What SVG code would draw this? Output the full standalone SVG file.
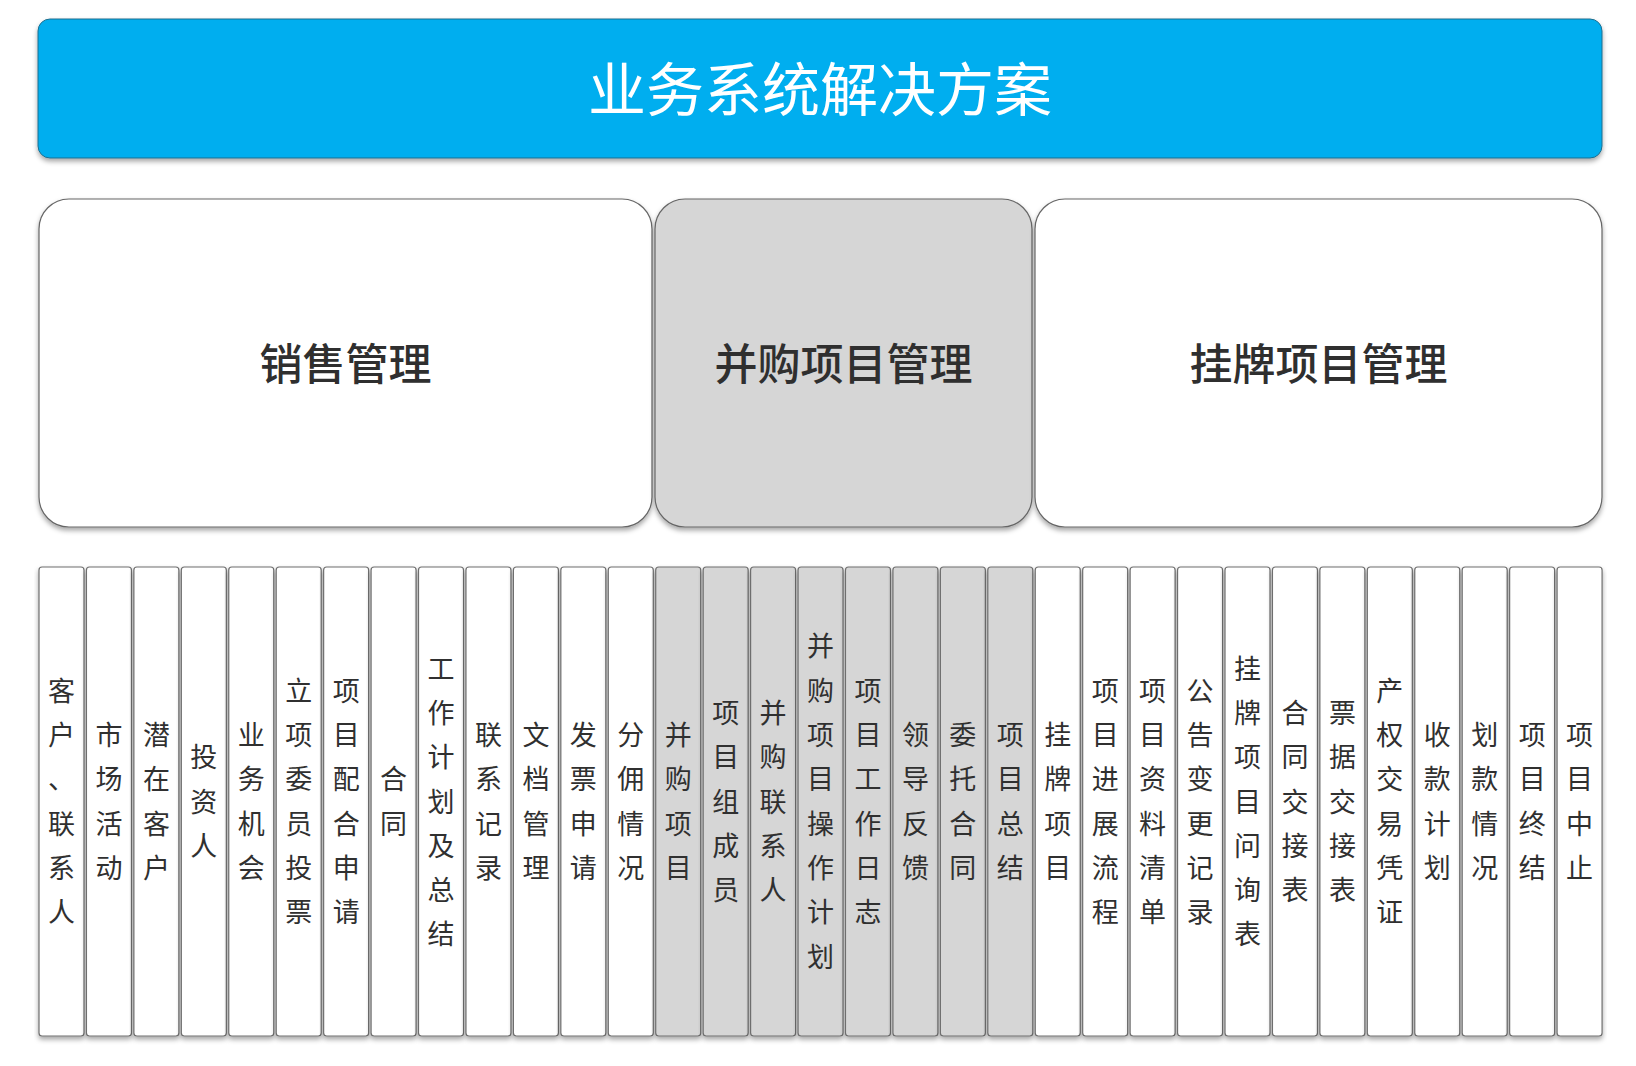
<svg xmlns="http://www.w3.org/2000/svg" width="1636" height="1066" viewBox="0 0 1636 1066">
<defs>
<filter id="sh" x="-10%" y="-10%" width="120%" height="130%">
<feDropShadow dx="0" dy="3" stdDeviation="2.5" flood-color="#000" flood-opacity="0.35"/>
</filter>
<style>
text{font-family:"Noto Sans CJK SC","Noto Sans",sans-serif;dominant-baseline:central;text-anchor:middle;}
.title{fill:#00AEEF;stroke:#1f6f8f;stroke-width:1;filter:url(#sh);}
.tt{fill:#fff;font-size:58px;}
.box{stroke:#666;stroke-width:1.2;filter:url(#sh);}
.bt{fill:#2f2f2f;font-size:43px;font-weight:500;}
.col{stroke:#6e6e6e;stroke-width:1.2;filter:url(#sh);}
.w{fill:#fff;}
.g{fill:#d6d6d6;}
.ct{fill:#303030;font-size:27px;transform:translateY(-2px);}
</style>
</defs>
<rect width="1636" height="1066" fill="#fff"/>
<g id="title">
<rect class="title" x="38" y="19" width="1564" height="139" rx="12"/>
<text class="tt" x="820" y="86">业务系统解决方案</text>
</g>
<g id="sales">
<rect class="box w" x="39" y="199" width="613" height="328" rx="30"/>
<text class="bt" x="345.5" y="361">销售管理</text>
</g>
<g id="ma">
<rect class="box g" x="655" y="199" width="377" height="328" rx="30"/>
<text class="bt" x="843.5" y="361">并购项目管理</text>
</g>
<g id="listing">
<rect class="box w" x="1035" y="199" width="567" height="328" rx="30"/>
<text class="bt" x="1318.5" y="361">挂牌项目管理</text>
</g>
<g id="connectors"></g>
<g id="c0"><rect class="col w" x="39" y="567" width="45" height="469" rx="3"/><text class="ct" x="61.5" y="690.75"><tspan>客</tspan><tspan x="61.5" dy="44.3">户</tspan><tspan x="61.5" dy="44.3">、</tspan><tspan x="61.5" dy="44.3">联</tspan><tspan x="61.5" dy="44.3">系</tspan><tspan x="61.5" dy="44.3">人</tspan></text></g>
<g id="c1"><rect class="col w" x="86.44" y="567" width="45" height="469" rx="3"/><text class="ct" x="108.94" y="735.05"><tspan>市</tspan><tspan x="108.94" dy="44.3">场</tspan><tspan x="108.94" dy="44.3">活</tspan><tspan x="108.94" dy="44.3">动</tspan></text></g>
<g id="c2"><rect class="col w" x="133.88" y="567" width="45" height="469" rx="3"/><text class="ct" x="156.38" y="735.05"><tspan>潜</tspan><tspan x="156.38" dy="44.3">在</tspan><tspan x="156.38" dy="44.3">客</tspan><tspan x="156.38" dy="44.3">户</tspan></text></g>
<g id="c3"><rect class="col w" x="181.32" y="567" width="45" height="469" rx="3"/><text class="ct" x="203.82" y="757.2"><tspan>投</tspan><tspan x="203.82" dy="44.3">资</tspan><tspan x="203.82" dy="44.3">人</tspan></text></g>
<g id="c4"><rect class="col w" x="228.76" y="567" width="45" height="469" rx="3"/><text class="ct" x="251.26" y="735.05"><tspan>业</tspan><tspan x="251.26" dy="44.3">务</tspan><tspan x="251.26" dy="44.3">机</tspan><tspan x="251.26" dy="44.3">会</tspan></text></g>
<g id="c5"><rect class="col w" x="276.2" y="567" width="45" height="469" rx="3"/><text class="ct" x="298.7" y="690.75"><tspan>立</tspan><tspan x="298.7" dy="44.3">项</tspan><tspan x="298.7" dy="44.3">委</tspan><tspan x="298.7" dy="44.3">员</tspan><tspan x="298.7" dy="44.3">投</tspan><tspan x="298.7" dy="44.3">票</tspan></text></g>
<g id="c6"><rect class="col w" x="323.64" y="567" width="45" height="469" rx="3"/><text class="ct" x="346.14" y="690.75"><tspan>项</tspan><tspan x="346.14" dy="44.3">目</tspan><tspan x="346.14" dy="44.3">配</tspan><tspan x="346.14" dy="44.3">合</tspan><tspan x="346.14" dy="44.3">申</tspan><tspan x="346.14" dy="44.3">请</tspan></text></g>
<g id="c7"><rect class="col w" x="371.08" y="567" width="45" height="469" rx="3"/><text class="ct" x="393.58" y="779.35"><tspan>合</tspan><tspan x="393.58" dy="44.3">同</tspan></text></g>
<g id="c8"><rect class="col w" x="418.52" y="567" width="45" height="469" rx="3"/><text class="ct" x="441.02" y="668.6"><tspan>工</tspan><tspan x="441.02" dy="44.3">作</tspan><tspan x="441.02" dy="44.3">计</tspan><tspan x="441.02" dy="44.3">划</tspan><tspan x="441.02" dy="44.3">及</tspan><tspan x="441.02" dy="44.3">总</tspan><tspan x="441.02" dy="44.3">结</tspan></text></g>
<g id="c9"><rect class="col w" x="465.96" y="567" width="45" height="469" rx="3"/><text class="ct" x="488.46" y="735.05"><tspan>联</tspan><tspan x="488.46" dy="44.3">系</tspan><tspan x="488.46" dy="44.3">记</tspan><tspan x="488.46" dy="44.3">录</tspan></text></g>
<g id="c10"><rect class="col w" x="513.4" y="567" width="45" height="469" rx="3"/><text class="ct" x="535.9" y="735.05"><tspan>文</tspan><tspan x="535.9" dy="44.3">档</tspan><tspan x="535.9" dy="44.3">管</tspan><tspan x="535.9" dy="44.3">理</tspan></text></g>
<g id="c11"><rect class="col w" x="560.84" y="567" width="45" height="469" rx="3"/><text class="ct" x="583.34" y="735.05"><tspan>发</tspan><tspan x="583.34" dy="44.3">票</tspan><tspan x="583.34" dy="44.3">申</tspan><tspan x="583.34" dy="44.3">请</tspan></text></g>
<g id="c12"><rect class="col w" x="608.28" y="567" width="45" height="469" rx="3"/><text class="ct" x="630.78" y="735.05"><tspan>分</tspan><tspan x="630.78" dy="44.3">佣</tspan><tspan x="630.78" dy="44.3">情</tspan><tspan x="630.78" dy="44.3">况</tspan></text></g>
<g id="c13"><rect class="col g" x="655.72" y="567" width="45" height="469" rx="3"/><text class="ct" x="678.22" y="735.05"><tspan>并</tspan><tspan x="678.22" dy="44.3">购</tspan><tspan x="678.22" dy="44.3">项</tspan><tspan x="678.22" dy="44.3">目</tspan></text></g>
<g id="c14"><rect class="col g" x="703.16" y="567" width="45" height="469" rx="3"/><text class="ct" x="725.66" y="712.9"><tspan>项</tspan><tspan x="725.66" dy="44.3">目</tspan><tspan x="725.66" dy="44.3">组</tspan><tspan x="725.66" dy="44.3">成</tspan><tspan x="725.66" dy="44.3">员</tspan></text></g>
<g id="c15"><rect class="col g" x="750.6" y="567" width="45" height="469" rx="3"/><text class="ct" x="773.1" y="712.9"><tspan>并</tspan><tspan x="773.1" dy="44.3">购</tspan><tspan x="773.1" dy="44.3">联</tspan><tspan x="773.1" dy="44.3">系</tspan><tspan x="773.1" dy="44.3">人</tspan></text></g>
<g id="c16"><rect class="col g" x="798.04" y="567" width="45" height="469" rx="3"/><text class="ct" x="820.54" y="646.45"><tspan>并</tspan><tspan x="820.54" dy="44.3">购</tspan><tspan x="820.54" dy="44.3">项</tspan><tspan x="820.54" dy="44.3">目</tspan><tspan x="820.54" dy="44.3">操</tspan><tspan x="820.54" dy="44.3">作</tspan><tspan x="820.54" dy="44.3">计</tspan><tspan x="820.54" dy="44.3">划</tspan></text></g>
<g id="c17"><rect class="col g" x="845.48" y="567" width="45" height="469" rx="3"/><text class="ct" x="867.98" y="690.75"><tspan>项</tspan><tspan x="867.98" dy="44.3">目</tspan><tspan x="867.98" dy="44.3">工</tspan><tspan x="867.98" dy="44.3">作</tspan><tspan x="867.98" dy="44.3">日</tspan><tspan x="867.98" dy="44.3">志</tspan></text></g>
<g id="c18"><rect class="col g" x="892.92" y="567" width="45" height="469" rx="3"/><text class="ct" x="915.42" y="735.05"><tspan>领</tspan><tspan x="915.42" dy="44.3">导</tspan><tspan x="915.42" dy="44.3">反</tspan><tspan x="915.42" dy="44.3">馈</tspan></text></g>
<g id="c19"><rect class="col g" x="940.36" y="567" width="45" height="469" rx="3"/><text class="ct" x="962.86" y="735.05"><tspan>委</tspan><tspan x="962.86" dy="44.3">托</tspan><tspan x="962.86" dy="44.3">合</tspan><tspan x="962.86" dy="44.3">同</tspan></text></g>
<g id="c20"><rect class="col g" x="987.8" y="567" width="45" height="469" rx="3"/><text class="ct" x="1010.3" y="735.05"><tspan>项</tspan><tspan x="1010.3" dy="44.3">目</tspan><tspan x="1010.3" dy="44.3">总</tspan><tspan x="1010.3" dy="44.3">结</tspan></text></g>
<g id="c21"><rect class="col w" x="1035.24" y="567" width="45" height="469" rx="3"/><text class="ct" x="1057.74" y="735.05"><tspan>挂</tspan><tspan x="1057.74" dy="44.3">牌</tspan><tspan x="1057.74" dy="44.3">项</tspan><tspan x="1057.74" dy="44.3">目</tspan></text></g>
<g id="c22"><rect class="col w" x="1082.68" y="567" width="45" height="469" rx="3"/><text class="ct" x="1105.18" y="690.75"><tspan>项</tspan><tspan x="1105.18" dy="44.3">目</tspan><tspan x="1105.18" dy="44.3">进</tspan><tspan x="1105.18" dy="44.3">展</tspan><tspan x="1105.18" dy="44.3">流</tspan><tspan x="1105.18" dy="44.3">程</tspan></text></g>
<g id="c23"><rect class="col w" x="1130.12" y="567" width="45" height="469" rx="3"/><text class="ct" x="1152.62" y="690.75"><tspan>项</tspan><tspan x="1152.62" dy="44.3">目</tspan><tspan x="1152.62" dy="44.3">资</tspan><tspan x="1152.62" dy="44.3">料</tspan><tspan x="1152.62" dy="44.3">清</tspan><tspan x="1152.62" dy="44.3">单</tspan></text></g>
<g id="c24"><rect class="col w" x="1177.56" y="567" width="45" height="469" rx="3"/><text class="ct" x="1200.06" y="690.75"><tspan>公</tspan><tspan x="1200.06" dy="44.3">告</tspan><tspan x="1200.06" dy="44.3">变</tspan><tspan x="1200.06" dy="44.3">更</tspan><tspan x="1200.06" dy="44.3">记</tspan><tspan x="1200.06" dy="44.3">录</tspan></text></g>
<g id="c25"><rect class="col w" x="1225" y="567" width="45" height="469" rx="3"/><text class="ct" x="1247.5" y="668.6"><tspan>挂</tspan><tspan x="1247.5" dy="44.3">牌</tspan><tspan x="1247.5" dy="44.3">项</tspan><tspan x="1247.5" dy="44.3">目</tspan><tspan x="1247.5" dy="44.3">问</tspan><tspan x="1247.5" dy="44.3">询</tspan><tspan x="1247.5" dy="44.3">表</tspan></text></g>
<g id="c26"><rect class="col w" x="1272.44" y="567" width="45" height="469" rx="3"/><text class="ct" x="1294.94" y="712.9"><tspan>合</tspan><tspan x="1294.94" dy="44.3">同</tspan><tspan x="1294.94" dy="44.3">交</tspan><tspan x="1294.94" dy="44.3">接</tspan><tspan x="1294.94" dy="44.3">表</tspan></text></g>
<g id="c27"><rect class="col w" x="1319.88" y="567" width="45" height="469" rx="3"/><text class="ct" x="1342.38" y="712.9"><tspan>票</tspan><tspan x="1342.38" dy="44.3">据</tspan><tspan x="1342.38" dy="44.3">交</tspan><tspan x="1342.38" dy="44.3">接</tspan><tspan x="1342.38" dy="44.3">表</tspan></text></g>
<g id="c28"><rect class="col w" x="1367.32" y="567" width="45" height="469" rx="3"/><text class="ct" x="1389.82" y="690.75"><tspan>产</tspan><tspan x="1389.82" dy="44.3">权</tspan><tspan x="1389.82" dy="44.3">交</tspan><tspan x="1389.82" dy="44.3">易</tspan><tspan x="1389.82" dy="44.3">凭</tspan><tspan x="1389.82" dy="44.3">证</tspan></text></g>
<g id="c29"><rect class="col w" x="1414.76" y="567" width="45" height="469" rx="3"/><text class="ct" x="1437.26" y="735.05"><tspan>收</tspan><tspan x="1437.26" dy="44.3">款</tspan><tspan x="1437.26" dy="44.3">计</tspan><tspan x="1437.26" dy="44.3">划</tspan></text></g>
<g id="c30"><rect class="col w" x="1462.2" y="567" width="45" height="469" rx="3"/><text class="ct" x="1484.7" y="735.05"><tspan>划</tspan><tspan x="1484.7" dy="44.3">款</tspan><tspan x="1484.7" dy="44.3">情</tspan><tspan x="1484.7" dy="44.3">况</tspan></text></g>
<g id="c31"><rect class="col w" x="1509.64" y="567" width="45" height="469" rx="3"/><text class="ct" x="1532.14" y="735.05"><tspan>项</tspan><tspan x="1532.14" dy="44.3">目</tspan><tspan x="1532.14" dy="44.3">终</tspan><tspan x="1532.14" dy="44.3">结</tspan></text></g>
<g id="c32"><rect class="col w" x="1557.08" y="567" width="45" height="469" rx="3"/><text class="ct" x="1579.58" y="735.05"><tspan>项</tspan><tspan x="1579.58" dy="44.3">目</tspan><tspan x="1579.58" dy="44.3">中</tspan><tspan x="1579.58" dy="44.3">止</tspan></text></g>
</svg>
